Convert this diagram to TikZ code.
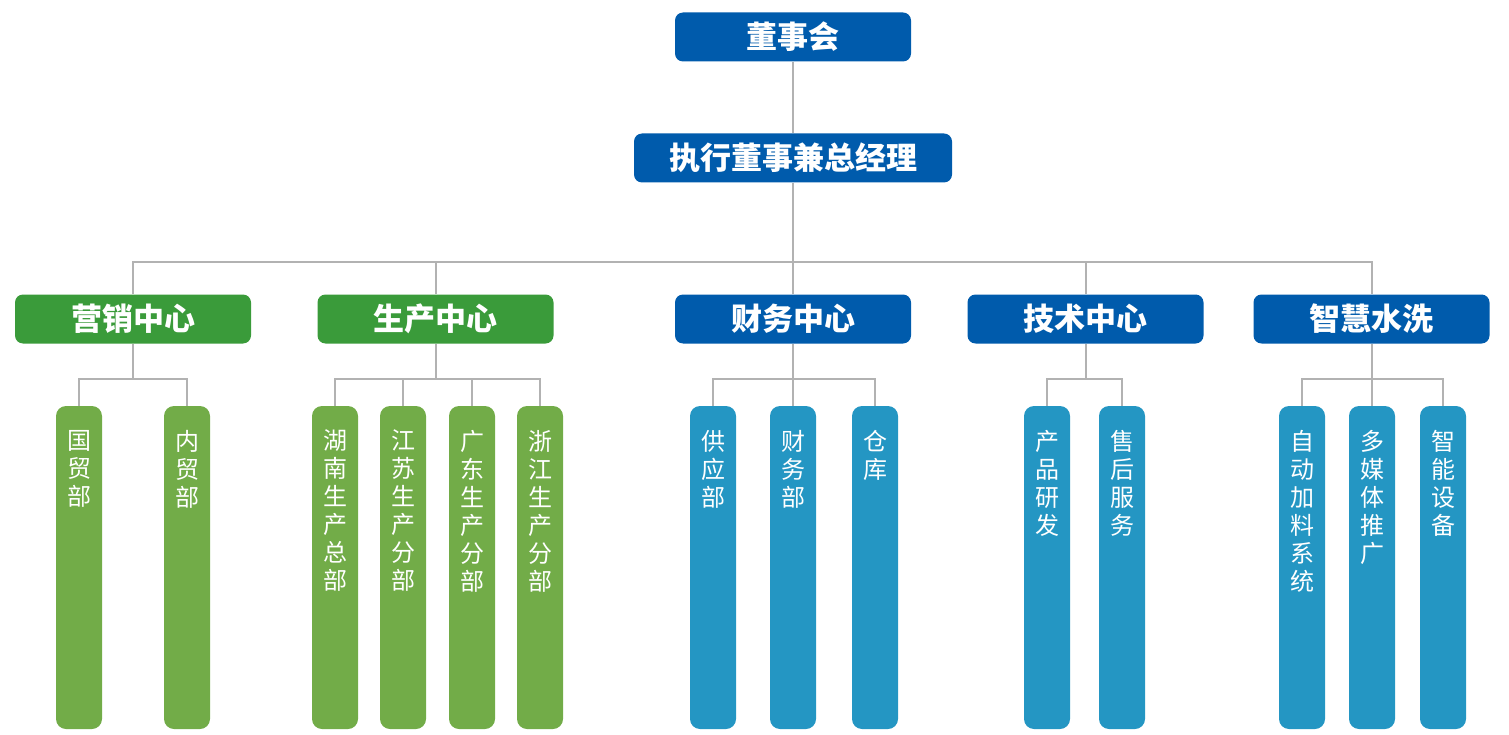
\documentclass[tikz,border=0pt]{standalone}
\usepackage{fontspec}
\setmainfont{Noto Sans CJK SC}
\definecolor{topblue}{RGB}{0,91,172}
\definecolor{topgreen}{RGB}{58,155,58}
\definecolor{leafgreen}{RGB}{114,172,72}
\definecolor{leafblue}{RGB}{36,150,195}
\definecolor{linegray}{RGB}{178,178,178}
\begin{document}
\begin{tikzpicture}[x=1pt,y=-1pt,
  headbox/.style={rounded corners=8pt, minimum height=49, inner sep=0, text=white,
    font=\bfseries\fontsize{31}{32}\selectfont},
  bluehead/.style={headbox, fill=topblue},
  greenhead/.style={headbox, fill=topgreen},
  leafbox/.style={rounded corners=10pt, minimum width=46, minimum height=323, inner sep=0},
  gleaf/.style={leafbox, fill=leafgreen},
  bleaf/.style={leafbox, fill=leafblue},
  leaftext/.style={anchor=north, inner sep=0, text=white, align=center,
    font=\fontsize{24}{28}\selectfont},
  conn/.style={draw=linegray, line width=2pt}
]
\useasboundingbox (0,0) rectangle (1509,735);
\coordinate (bar) at (0,262);
\coordinate (sub) at (0,379);

% top levels
\node[bluehead, minimum width=236] (dsh) at (793,37) {董事会};
\node[bluehead, minimum width=318] (zj) at (793,158) {执行董事兼总经理};

% second level
\node[greenhead, minimum width=236] (yx) at (133,319) {营销中心};
\node[greenhead, minimum width=236] (sc) at (435.5,319) {生产中心};
\node[bluehead, minimum width=236] (cw) at (793,319) {财务中心};
\node[bluehead, minimum width=236] (js) at (1085.5,319) {技术中心};
\node[bluehead, minimum width=236] (zh) at (1371.5,319) {智慧水洗};

% leaves
\node[gleaf] (l1) at (79,567.5) {};
\node[gleaf] (l2) at (187,567.5) {};
\node[gleaf] (l3) at (335,567.5) {};
\node[gleaf] (l4) at (403,567.5) {};
\node[gleaf] (l5) at (472,567.5) {};
\node[gleaf] (l6) at (540,567.5) {};
\node[bleaf] (l7) at (713,567.5) {};
\node[bleaf] (l8) at (793,567.5) {};
\node[bleaf] (l9) at (875,567.5) {};
\node[bleaf] (l10) at (1047,567.5) {};
\node[bleaf] (l11) at (1122,567.5) {};
\node[bleaf] (l12) at (1302,567.5) {};
\node[bleaf] (l13) at (1372,567.5) {};
\node[bleaf] (l14) at (1443,567.5) {};

\node[leaftext] (t1) at ([yshift=-24]l1.north) {国\\贸\\部};
\node[leaftext] (t2) at ([yshift=-24]l2.north) {内\\贸\\部};
\node[leaftext] (t3) at ([yshift=-24]l3.north) {湖\\南\\生\\产\\总\\部};
\node[leaftext] (t4) at ([yshift=-24]l4.north) {江\\苏\\生\\产\\分\\部};
\node[leaftext] (t5) at ([yshift=-24]l5.north) {广\\东\\生\\产\\分\\部};
\node[leaftext] (t6) at ([yshift=-24]l6.north) {浙\\江\\生\\产\\分\\部};
\node[leaftext] (t7) at ([yshift=-24]l7.north) {供\\应\\部};
\node[leaftext] (t8) at ([yshift=-24]l8.north) {财\\务\\部};
\node[leaftext] (t9) at ([yshift=-24]l9.north) {仓\\库};
\node[leaftext] (t10) at ([yshift=-24]l10.north) {产\\品\\研\\发};
\node[leaftext] (t11) at ([yshift=-24]l11.north) {售\\后\\服\\务};
\node[leaftext] (t12) at ([yshift=-24]l12.north) {自\\动\\加\\料\\系\\统};
\node[leaftext] (t13) at ([yshift=-24]l13.north) {多\\媒\\体\\推\\广};
\node[leaftext] (t14) at ([yshift=-24]l14.north) {智\\能\\设\\备};

% connectors top
\draw[conn] (dsh.south) -- (zj.north);
\draw[conn] (zj.south) -- (zj.south|-bar);
\draw[conn] (yx.north) -- (yx.north|-bar) -- (zh.north|-bar) -- (zh.north);
\draw[conn] (sc.north) -- (sc.north|-bar);
\draw[conn] (cw.north) -- (cw.north|-bar);
\draw[conn] (js.north) -- (js.north|-bar);

% connectors second level
\draw[conn] (yx.south) -- (yx.south|-sub);
\draw[conn] (l1.north) -- (l1.north|-sub) -- (l2.north|-sub) -- (l2.north);

\draw[conn] (sc.south) -- (sc.south|-sub);
\draw[conn] (l3.north) -- (l3.north|-sub) -- (l6.north|-sub) -- (l6.north);
\draw[conn] (l4.north) -- (l4.north|-sub);
\draw[conn] (l5.north) -- (l5.north|-sub);

\draw[conn] (cw.south) -- (cw.south|-sub);
\draw[conn] (l7.north) -- (l7.north|-sub) -- (l9.north|-sub) -- (l9.north);
\draw[conn] (l8.north) -- (l8.north|-sub);

\draw[conn] (js.south) -- (js.south|-sub);
\draw[conn] (l10.north) -- (l10.north|-sub) -- (l11.north|-sub) -- (l11.north);

\draw[conn] (zh.south) -- (zh.south|-sub);
\draw[conn] (l12.north) -- (l12.north|-sub) -- (l14.north|-sub) -- (l14.north);
\draw[conn] (l13.north) -- (l13.north|-sub);
\end{tikzpicture}
\end{document}
